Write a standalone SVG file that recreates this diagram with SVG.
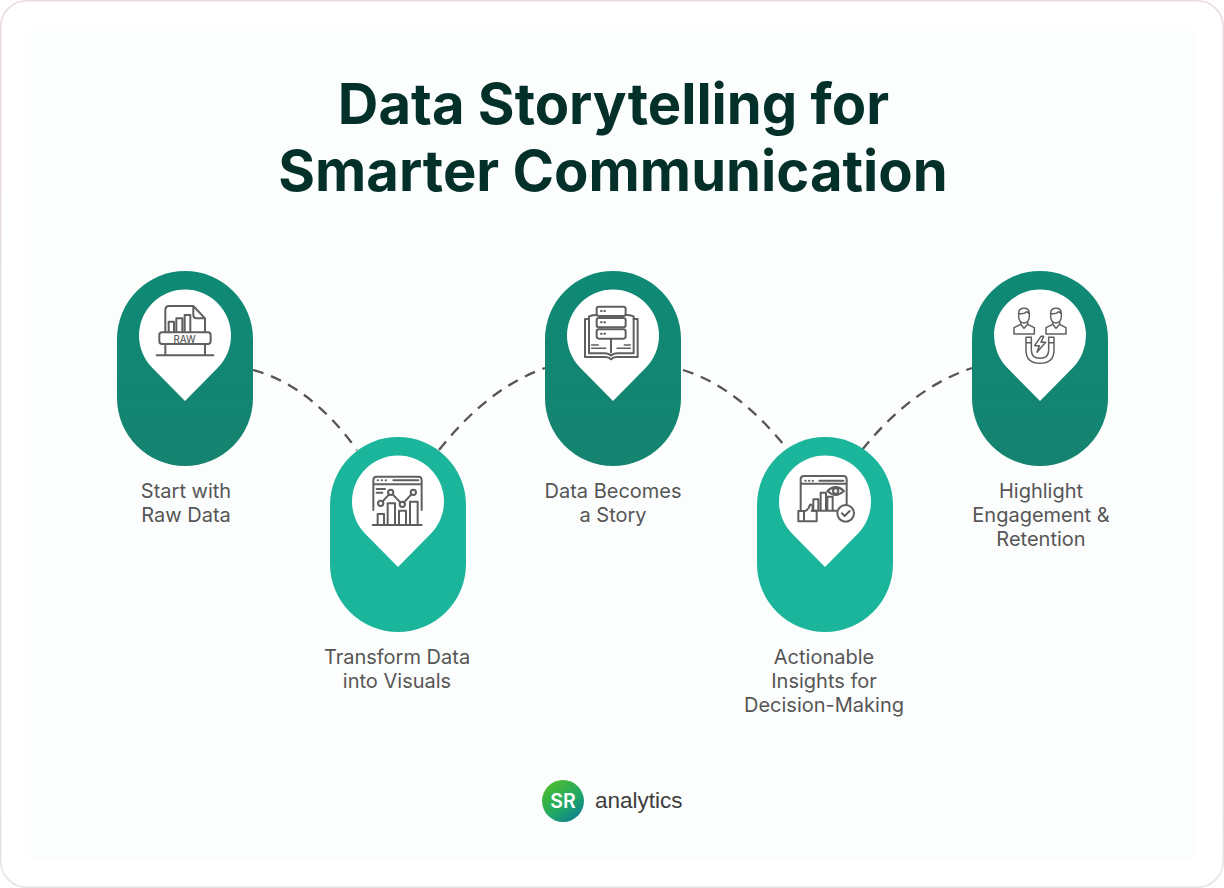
<svg xmlns="http://www.w3.org/2000/svg" width="1224" height="888" viewBox="0 0 1224 888">
<style>
.title{font-family:Inter,"Liberation Sans",sans-serif;font-weight:700;font-size:56.2px;fill:#04302a;text-anchor:middle}
.label{font-family:Inter,"Liberation Sans",sans-serif;font-size:20px;fill:#565656;text-anchor:middle}
.dash{fill:none;stroke:#555;stroke-width:2.3;stroke-dasharray:11 8}
.ico{fill:none;stroke:#5f5f5f;stroke-width:6;stroke-linecap:round;stroke-linejoin:round}
.ico2{fill:none;stroke:#5f5f5f;stroke-width:4.5;stroke-linecap:round;stroke-linejoin:round}
</style>
<defs>
<linearGradient id="dk" x1="0" y1="0" x2="0" y2="1"><stop offset="0" stop-color="#0f8a75"/><stop offset="1" stop-color="#158370"/></linearGradient>
<linearGradient id="sr" x1="0.15" y1="0.1" x2="0.8" y2="0.95"><stop offset="0" stop-color="#4cbb2e"/><stop offset="0.6" stop-color="#1fa866"/><stop offset="1" stop-color="#0f7f8f"/></linearGradient>
<linearGradient id="bd" x1="0" y1="0" x2="0" y2="1"><stop offset="0" stop-color="#e8dcd8"/><stop offset="1" stop-color="#e2e4e0"/></linearGradient>
<rect id="cap" x="-68" y="0" width="136" height="195" rx="68" ry="68"/>
<path id="pin" d="M0 130 L-32.8 96.8 A46 46 0 1 1 32.8 96.8 Z" fill="#fff"/>
</defs>
<rect x="0.75" y="0.75" width="1222.5" height="886.5" rx="26" fill="#fff" stroke="url(#bd)" stroke-width="1.5"/>
<rect x="30" y="30" width="1165" height="830" fill="#fcfdfd"/>
<text class="title" x="613.5" y="124">Data Storytelling for</text>
<text class="title" x="613" y="191">Smarter Communication</text>
<g id="connectors">
<path class="dash" d="M253 370 Q310 385 357 450"/>
<path class="dash" d="M439 450 Q488 388 545 368"/>
<path class="dash" d="M683 370 Q738 387 788 450"/>
<path class="dash" d="M862 450 Q912 388 972 368"/>
</g>
<g id="node-1">
<use href="#cap" x="185" y="271" fill="url(#dk)"/><use href="#pin" x="185" y="271"/>
<g transform="translate(100 260) scale(.3333)">
<path class="ico" d="M196 215V150Q196 138 208 138H280L315 175V215M280 138V165Q280 175 290 175H315"/>
<path class="ico" d="M206 215V185H222V215M229 215V175H247V215M254 215V165H271V215"/>
<rect class="ico" x="178" y="217" width="154" height="35" rx="8"/>
<path class="ico" d="M196 252V286M315 252V286M170 286H340"/>
<text x="254" y="248" font-family="Inter,'Liberation Sans',sans-serif" font-size="29" font-weight="500" fill="#5f5f5f" text-anchor="middle">RAW</text>
</g>
<text class="label"><tspan x="186" y="498">Start with</tspan><tspan x="186" y="522">Raw Data</tspan></text>
</g>
<g id="node-2">
<use href="#cap" x="398" y="437" fill="#1ab59b"/><use href="#pin" x="398" y="437"/>
<g transform="translate(350 460) scale(.3333)">
<path class="ico" d="M70 150V60Q70 50 80 50H205Q215 50 215 60V150M70 73H215M130 61H205"/>
<path class="ico" d="M83 61H84M95 61H96M107 61H108M80 87H105M80 98H97"/>
<circle class="ico" cx="92" cy="130" r="8"/><circle class="ico" cx="122" cy="97" r="8"/><circle class="ico" cx="157" cy="133" r="8"/><circle class="ico" cx="190" cy="97" r="8"/>
<path class="ico" d="M98 124L117 103M128 103L151 127M162 127L184 103"/>
<path class="ico" d="M83 195V162H102V195M113 195V130H135V195M147 195V152H168V195M180 195V125H203V195M68 195H215"/>
</g>
<text class="label"><tspan x="397" y="664">Transform Data</tspan><tspan x="397" y="688">into Visuals</tspan></text>
</g>
<g id="node-3">
<use href="#cap" x="613" y="271" fill="url(#dk)"/><use href="#pin" x="613" y="271"/>
<g transform="translate(565 295) scale(.3333)">
<rect class="ico" x="95" y="35" width="87" height="28" rx="7"/><rect class="ico" x="95" y="69" width="87" height="28" rx="7"/><rect class="ico" x="95" y="103" width="87" height="28" rx="7"/>
<path class="ico" d="M108 48H110M118 48H120M108 82H110M118 82H120M108 116H110M118 116H120M138 131V172"/>
<path class="ico" d="M95 60Q82 60 72 64V175H118Q132 175 138 182Q144 175 158 175H206V64Q196 60 182 60"/>
<path class="ico" d="M72 72H60V186H122Q132 186 138 193Q144 186 154 186H218V72H206"/>
<path class="ico2" d="M80 150H100M178 150H196M80 160H122M156 160H196"/>
</g>
<text class="label"><tspan x="613" y="498">Data Becomes</tspan><tspan x="613" y="522">a Story</tspan></text>
</g>
<g id="node-4">
<use href="#cap" x="825" y="437" fill="#1ab59b"/><use href="#pin" x="825" y="437"/>
<g transform="translate(780 460) scale(.3333)">
<path class="ico" d="M62 150V58Q62 48 72 48H190Q200 48 200 58V135M62 71H200M118 62H190"/>
<path class="ico" d="M76 62H77M87 62H88M98 62H99"/>
<path class="ico" d="M142 93Q167 70 192 93Q167 116 142 93Z"/><circle class="ico" cx="167" cy="93" r="8"/>
<path class="ico" d="M100 152V118H115V152M122 152V98H138V152M142 152V110H158V152M95 152H170"/>
<path class="ico" d="M55 153H72V184H55ZM72 155Q86 150 90 134Q101 132 97 152H110V184H72"/>
<circle class="ico" cx="197" cy="160" r="25"/><path class="ico" d="M186 160L194 168L209 153"/>
</g>
<text class="label"><tspan x="824" y="664">Actionable</tspan><tspan x="824" y="688">Insights for</tspan><tspan x="824" y="712">Decision-Making</tspan></text>
</g>
<g id="node-5">
<use href="#cap" x="1040" y="271" fill="url(#dk)"/><use href="#pin" x="1040" y="271"/>
<g transform="translate(990 295) scale(.3333)">
<path class="ico2" d="M86 55Q86 40 102 40Q118 40 118 55V66Q116 84 102 84Q88 84 86 66ZM86 56Q102 58 110 50L118 56"/>
<path class="ico2" d="M92 82V88L72 98V117H133V98L113 88V82M92 88L102 100L113 88"/>
<path class="ico2" d="M182 55Q182 40 198 40Q214 40 214 55V66Q212 84 198 84Q184 84 182 66ZM182 56Q198 58 206 50L214 56"/>
<path class="ico2" d="M188 82V88L168 98V117H228V98L209 88V82M188 88L198 100L209 88"/>
<path class="ico2" d="M108 127H124V165Q124 190 150 190Q176 190 176 165V127H192V165Q192 205 150 205Q108 205 108 165ZM108 143H124M176 143H192"/>
<path class="ico2" d="M153 124L134 152H148L141 172L167 142H153L161 124Z"/>
</g>
<text class="label"><tspan x="1041" y="498">Highlight</tspan><tspan x="1041" y="522">Engagement &amp;</tspan><tspan x="1041" y="546">Retention</tspan></text>
</g>
<g id="logo">
<circle cx="563" cy="801" r="21" fill="url(#sr)"/>
<text x="563" y="808" font-family="Inter,'Liberation Sans',sans-serif" font-weight="600" font-size="19.5" fill="#fff" text-anchor="middle">SR</text>
<text x="595" y="808" font-family="'Liberation Sans',Arial,sans-serif" font-size="22.5" fill="#3d3d3d">analytics</text>
</g>
</svg>
